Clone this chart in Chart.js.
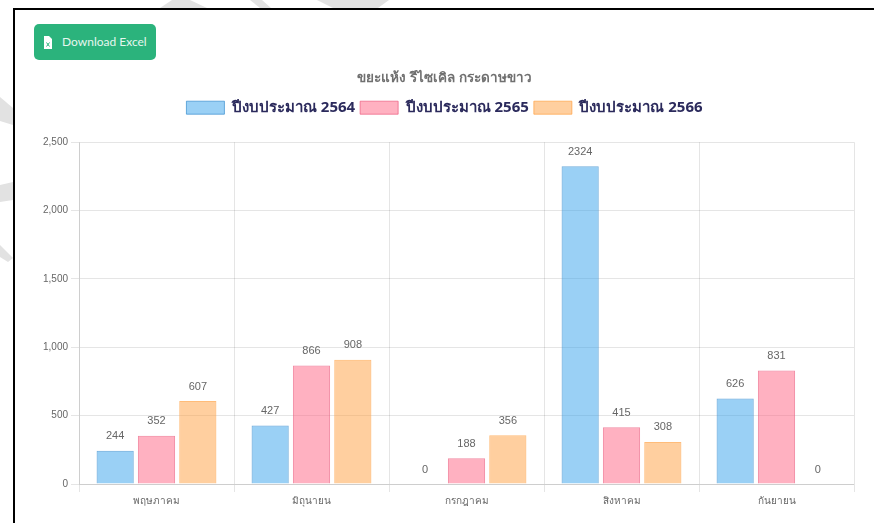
<!DOCTYPE html>
<html>
<head>
<meta charset="utf-8">
<script src="https://cdn.jsdelivr.net/npm/chart.js@4"></script>
<style>
  html, body { margin: 0; padding: 0; background: #fff; overflow: hidden; }
  body { width: 874px; height: 523px; position: relative; font-family: "Liberation Sans", "Noto Sans", sans-serif; }
  #marks { position: absolute; left: 0; top: 0; }
  #frame { position: absolute; left: 13px; top: 8px; right: 0; bottom: 0; border-left: 2px solid #000; border-top: 2px solid #000; background: #fff; }
  .btn { position: absolute; left: 34px; top: 24px; width: 122px; height: 36px; background: #2bb37c; border-radius: 5px; color: #e6f6ef; font: 12px Lato, sans-serif; line-height: 36px; text-indent: 28px; }
  .btn svg { position: absolute; left: 8px; top: 12px; }
  #wrap { position: absolute; left: 15px; top: 60px; width: 859px; height: 463px; }
</style>
</head>
<body>
<!-- grey watermark pieces showing outside the frame -->
<svg id="marks" width="874" height="523" fill="#e2e2e2">
  <polygon points="160,8 172,0 190,0 207,8"/>
  <polygon points="250,0 262,0 271,8 260,8"/>
  <polygon points="317,0 389,0 378,8 333,8"/>
  <polygon points="0,97 13,108 13,125 0,121"/>
  <polygon points="0,185 13,182 13,200 0,202"/>
  <polygon points="0,245 13,258 8,262 0,257"/>
</svg>
<div id="frame"></div>
<div class="btn"><svg width="12" height="13" viewBox="0 0 12 13"><path d="M2 0h5l3 3v10H2z" fill="#fff"/><path d="M4.5 6.5l3 4m0-4l-3 4" stroke="#2bb37c" stroke-width="1"/></svg>Download Excel</div>
<div id="wrap"><canvas id="chart"></canvas></div>
<script>
const months = ["พฤษภาคม", "มิถุนายน", "กรกฎาคม", "สิงหาคม", "กันยายน"];
const budget2564 = [244, 427, 0, 2324, 626];
const budget2565 = [352, 866, 188, 415, 831];
const budget2566 = [607, 908, 356, 308, 0];
const titleText = "ขยะแห้ง รีไซเคิล กระดาษขาว";
const thaiFont = '"Noto Sans", "Liberation Sans", "DejaVu Sans", sans-serif';

// draws the number above every bar
const valueLabels = {
  id: "valueLabels",
  afterDatasetsDraw(chart) {
    const ctx = chart.ctx;
    ctx.save();
    ctx.font = "11px 'Liberation Sans', sans-serif";
    ctx.fillStyle = "#666";
    ctx.textAlign = "center";
    ctx.textBaseline = "bottom";
    chart.data.datasets.forEach((ds, i) => {
      chart.getDatasetMeta(i).data.forEach((bar, j) => {
        ctx.fillText(ds.data[j], bar.x, bar.y - 9);
      });
    });
    ctx.restore();
  }
};

// more room between legend and plot
const legendGap = {
  id: "legendGap",
  beforeInit(chart) {
    const fit = chart.legend.fit;
    chart.legend.fit = function () {
      fit.call(this);
      this.height += 17;
    };
  }
};

new Chart(document.getElementById("chart"), {
  type: "bar",
  data: {
    labels: months,
    datasets: [
      { label: "ปีงบประมาณ 2564", data: budget2564, backgroundColor: "rgba(54,162,235,0.5)", borderColor: "rgba(54,140,205,0.7)", borderWidth: 1 },
      { label: "ปีงบประมาณ 2565", data: budget2565, backgroundColor: "rgba(255,99,132,0.5)", borderColor: "rgba(235,90,125,0.7)", borderWidth: 1 },
      { label: "ปีงบประมาณ 2566", data: budget2566, backgroundColor: "rgba(255,159,64,0.5)", borderColor: "rgba(255,159,64,0.7)", borderWidth: 1 }
    ]
  },
  options: {
    responsive: true,
    maintainAspectRatio: false,
    animation: false,
    layout: { padding: { right: 20, bottom: 13, left: 20 } },
    plugins: {
      title: { display: true, text: titleText, color: "#707070", font: { family: thaiFont, size: 13.5, weight: "bold" }, padding: { top: 10, bottom: 9 } },
      legend: { labels: { color: "#2b2a5c", boxWidth: 38, boxHeight: 13, padding: 5, font: { family: thaiFont, size: 15, weight: "bold" } } },
      tooltip: { enabled: false }
    },
    scales: {
      x: {
        grid: { color: "rgba(0,0,0,0.1)" },
        ticks: { color: "#666", font: { family: thaiFont, size: 10 } }
      },
      y: {
        beginAtZero: true,
        min: 0,
        max: 2500,
        afterFit(scale) { scale.width = 44; },
        grid: { color: "rgba(0,0,0,0.1)" },
        ticks: { stepSize: 500, color: "#666", font: { family: "'Liberation Sans', sans-serif", size: 10 } }
      }
    }
  },
  plugins: [valueLabels, legendGap]
});
</script>
</body>
</html>
